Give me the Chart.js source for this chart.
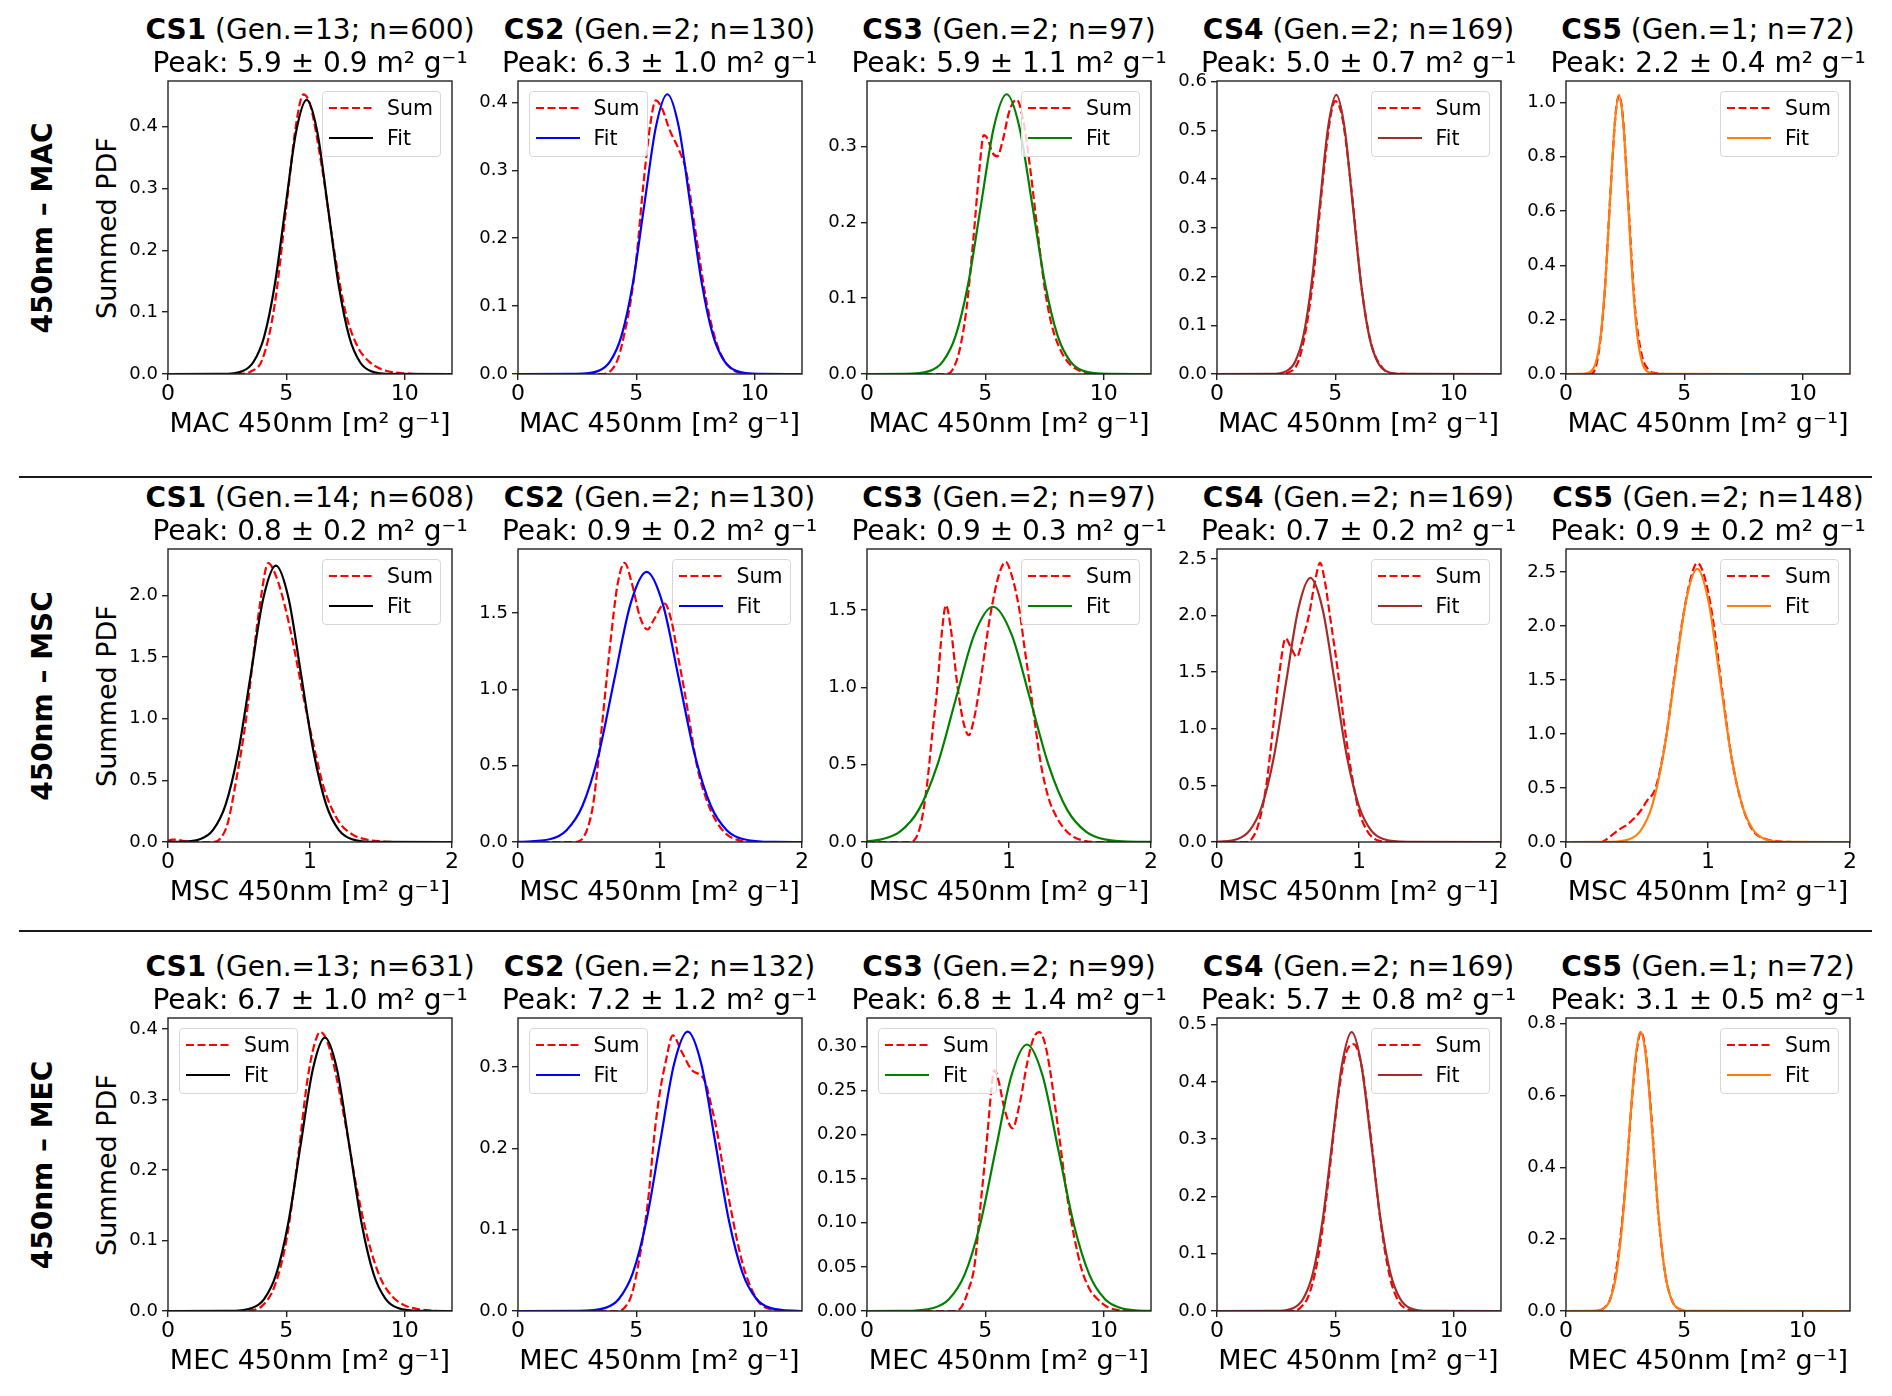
<!DOCTYPE html>
<html><head><meta charset="utf-8">
<script src="https://cdn.jsdelivr.net/npm/chart.js@4.4.1/dist/chart.umd.min.js"></script>
<style>
html,body{margin:0;padding:0;background:#fff;}
body{width:1892px;height:1396px;position:relative;overflow:hidden;font-family:'DejaVu Sans',sans-serif;color:#000;}
canvas{position:absolute;}
.t{position:absolute;width:480px;text-align:center;font-size:28px;line-height:32px;white-space:nowrap;}
.xl{position:absolute;width:480px;text-align:center;font-size:27px;line-height:32px;white-space:nowrap;}
.yl{position:absolute;width:400px;height:32px;text-align:center;font-size:27px;line-height:32px;white-space:nowrap;transform:rotate(-90deg);}
.rl{position:absolute;width:400px;height:34px;text-align:center;font-size:28px;font-weight:bold;line-height:34px;white-space:nowrap;transform:rotate(-90deg);}
.leg{position:absolute;width:117px;height:64px;border:1px solid #d8d8d8;border-radius:4px;background:rgba(255,255,255,0.8);font-size:20.5px;}
.leg svg{position:absolute;left:6px;}
.leg span{position:absolute;left:64px;line-height:24px;}
.sep{position:absolute;left:19px;width:1853px;height:2px;background:#1a1a1a;}
</style>
</head><body>
<div class="sep" style="top:476px"></div>
<div class="sep" style="top:930px"></div>
<script>
// ---------- text / metadata ----------
const csNames = ['CS1','CS2','CS3','CS4','CS5'];
const rowLabels = ['450nm – MAC','450nm – MSC','450nm – MEC'];
const xAxisLabels = ['MAC 450nm [m² g⁻¹]','MSC 450nm [m² g⁻¹]','MEC 450nm [m² g⁻¹]'];
const yAxisLabel = 'Summed PDF';
const macGen = [13,2,2,2,1];  const macN = [600,130,97,169,72];
const mscGen = [14,2,2,2,2];  const mscN = [608,130,97,169,148];
const mecGen = [13,2,2,2,1];  const mecN = [631,132,99,169,72];
const macPeak = ['5.9 ± 0.9','6.3 ± 1.0','5.9 ± 1.1','5.0 ± 0.7','2.2 ± 0.4'];
const mscPeak = ['0.8 ± 0.2','0.9 ± 0.2','0.9 ± 0.3','0.7 ± 0.2','0.9 ± 0.2'];
const mecPeak = ['6.7 ± 1.0','7.2 ± 1.2','6.8 ± 1.4','5.7 ± 0.8','3.1 ± 0.5'];
const fitColors = ['#000000','#0000ff','#008000','#a52a2a','#ff7f0e'];

// ---------- axis ranges & ticks ----------
const macXTicks = ['0','5','10'];  const macXMax = 12;
const mscXTicks = ['0','1','2'];   const mscXMax = 2;
const mecXTicks = ['0','5','10'];  const mecXMax = 12;
const macYMax = [0.4736, 0.4315, 0.3865, 0.6015, 1.079];
const mscYMax = [2.378, 1.918, 1.893, 2.588, 2.712];
const mecYMax = [0.4158, 0.3605, 0.332, 0.5115, 0.8158];
const macYTicks = [['0.0','0.1','0.2','0.3','0.4'],['0.0','0.1','0.2','0.3','0.4'],['0.0','0.1','0.2','0.3'],['0.0','0.1','0.2','0.3','0.4','0.5','0.6'],['0.0','0.2','0.4','0.6','0.8','1.0']];
const mscYTicks = [['0.0','0.5','1.0','1.5','2.0'],['0.0','0.5','1.0','1.5'],['0.0','0.5','1.0','1.5'],['0.0','0.5','1.0','1.5','2.0','2.5'],['0.0','0.5','1.0','1.5','2.0','2.5']];
const mecYTicks = [['0.0','0.1','0.2','0.3','0.4'],['0.0','0.1','0.2','0.3'],['0.00','0.05','0.10','0.15','0.20','0.25','0.30'],['0.0','0.1','0.2','0.3','0.4','0.5'],['0.0','0.2','0.4','0.6','0.8']];
const macLegendLeft = [false,true,false,false,false];
const mscLegendLeft = [false,false,false,false,false];
const mecLegendLeft = [true,true,true,false,false];

// ---------- series: [x, y] ----------
// MAC 450nm
const macCS1Sum = [[0,0],[3,0],[3.5,0.004],[4,0.025],[4.5,0.11],[5,0.27],[5.4,0.4],[5.72,0.452],[6,0.436],[6.5,0.335],[7,0.205],[7.5,0.1],[8,0.045],[8.5,0.02],[9,0.008],[9.5,0.003],[10,0.001],[10.5,0],[12,0]];
const macCS1Fit = [[0,0],[2.26,0.0001],[3.16,0.0049],[3.61,0.0194],[4.06,0.0599],[4.51,0.1438],[4.96,0.2687],[5.41,0.3909],[5.86,0.443],[6.31,0.3909],[6.76,0.2687],[7.21,0.1438],[7.66,0.0599],[8.11,0.0194],[8.56,0.0049],[9.46,0.0001],[12,0]];
const macCS2Sum = [[0,0],[3.6,0],[4,0.008],[4.25,0.025],[4.5,0.06],[4.75,0.105],[5,0.17],[5.3,0.28],[5.6,0.37],[5.82,0.403],[6.1,0.39],[6.4,0.36],[6.8,0.33],[7.1,0.3],[7.5,0.21],[8,0.1],[8.5,0.035],[9,0.008],[9.5,0.001],[10,0],[12,0]];
const macCS2Fit = [[0,0],[2.43,0.0001],[3.40,0.0046],[3.885,0.0181],[4.37,0.0557],[4.855,0.1338],[5.34,0.2499],[5.825,0.3636],[6.31,0.412],[6.795,0.3636],[7.28,0.2499],[7.765,0.1338],[8.25,0.0557],[8.735,0.0181],[9.22,0.0046],[10.19,0.0001],[12,0]];
const macCS3Sum = [[0,0],[3.3,0],[3.6,0.005],[3.9,0.03],[4.2,0.085],[4.5,0.18],[4.75,0.27],[4.93,0.315],[5.1,0.31],[5.3,0.292],[5.5,0.287],[5.75,0.31],[6.0,0.345],[6.32,0.362],[6.6,0.335],[6.9,0.27],[7.2,0.19],[7.5,0.115],[7.8,0.065],[8.2,0.03],[8.6,0.012],[9,0.004],[9.5,0],[12,0]];
const macCS3Fit = [[0,0],[1.58,0.0001],[2.66,0.0041],[3.20,0.0162],[3.74,0.0499],[4.28,0.1198],[4.82,0.2238],[5.36,0.3256],[5.90,0.369],[6.44,0.3256],[6.98,0.2238],[7.52,0.1198],[8.06,0.0499],[8.60,0.0162],[9.14,0.0041],[10.22,0.0001],[12,0]];
const macCS4Sum = [[0,0],[2.5,0],[3,0.003],[3.5,0.035],[4,0.17],[4.5,0.41],[4.8,0.53],[5.0,0.56],[5.3,0.525],[5.7,0.37],[6.1,0.18],[6.5,0.065],[7,0.012],[7.5,0.001],[8,0],[12,0]];
const macCS4Fit = [[0,0],[2.256,0.0002],[2.952,0.0064],[3.30,0.0252],[3.648,0.0775],[3.996,0.1861],[4.344,0.3475],[4.692,0.5057],[5.04,0.573],[5.388,0.5057],[5.736,0.3475],[6.084,0.1861],[6.432,0.0775],[6.78,0.0252],[7.128,0.0064],[7.824,0.0002],[12,0]];
const macCS5Sum = [[0,0],[1.0,0],[1.3,0.04],[1.6,0.26],[1.9,0.7],[2.1,0.96],[2.24,1.025],[2.4,0.95],[2.6,0.68],[2.9,0.26],[3.2,0.07],[3.5,0.015],[3.8,0.003],[4.2,0],[12,0]];
const macCS5Fit = [[0,0],[0.688,0.0003],[1.076,0.0114],[1.27,0.0451],[1.464,0.1391],[1.658,0.3338],[1.852,0.6235],[2.046,0.9072],[2.24,1.028],[2.434,0.9072],[2.628,0.6235],[2.822,0.3338],[3.016,0.1391],[3.21,0.0451],[3.404,0.0114],[3.792,0.0003],[12,0]];
// MSC 450nm
const mscCS1Sum = [[0,0.01],[0.03,0.02],[0.08,0.015],[0.13,0.003],[0.2,0],[0.32,0],[0.37,0.03],[0.42,0.15],[0.48,0.5],[0.55,1.0],[0.6,1.5],[0.65,1.95],[0.706,2.264],[0.76,2.16],[0.82,1.93],[0.88,1.62],[0.95,1.2],[1.0,0.92],[1.05,0.66],[1.1,0.43],[1.2,0.17],[1.3,0.06],[1.4,0.02],[1.5,0.005],[1.6,0],[2,0]];
const mscCS1Fit = [[0,0.0002],[0.052,0.0007],[0.229,0.0249],[0.3175,0.0985],[0.406,0.3035],[0.4945,0.7283],[0.583,1.3604],[0.6715,1.9794],[0.76,2.243],[0.8485,1.9794],[0.937,1.3604],[1.0255,0.7283],[1.114,0.3035],[1.2025,0.0985],[1.291,0.0249],[1.468,0.0007],[2,0]];
const mscCS2Sum = [[0,0],[0.4,0],[0.44,0.01],[0.49,0.09],[0.53,0.25],[0.562,0.5],[0.59,0.75],[0.617,1.0],[0.65,1.3],[0.7,1.68],[0.751,1.827],[0.8,1.7],[0.86,1.47],[0.912,1.391],[0.96,1.46],[1.033,1.561],[1.08,1.45],[1.13,1.2],[1.17,1.0],[1.22,0.72],[1.26,0.5],[1.33,0.27],[1.4,0.13],[1.47,0.05],[1.55,0.012],[1.65,0],[2,0]];
const mscCS2Fit = [[0,0.0005],[0.229,0.0196],[0.342,0.0776],[0.455,0.2392],[0.568,0.5741],[0.680,1.0723],[0.793,1.5603],[0.906,1.768],[1.019,1.5603],[1.132,1.0723],[1.244,0.5741],[1.357,0.2392],[1.470,0.0776],[1.583,0.0196],[1.808,0.0005],[2,0]];
const mscCS3Sum = [[0,0],[0.3,0],[0.34,0.02],[0.38,0.12],[0.42,0.35],[0.46,0.7],[0.495,1.0],[0.53,1.38],[0.556,1.53],[0.59,1.38],[0.638,1.0],[0.68,0.77],[0.717,0.69],[0.75,0.78],[0.793,1.0],[0.84,1.3],[0.875,1.5],[0.93,1.73],[0.976,1.81],[1.02,1.72],[1.073,1.5],[1.11,1.25],[1.149,1.0],[1.19,0.72],[1.225,0.5],[1.28,0.28],[1.33,0.17],[1.377,0.1],[1.45,0.035],[1.53,0.008],[1.6,0],[2,0]];
const mscCS3Fit = [[0,0.0049],[0.101,0.0169],[0.232,0.0667],[0.363,0.2057],[0.494,0.4935],[0.625,0.9219],[0.756,1.3414],[0.887,1.52],[1.018,1.3414],[1.149,0.9219],[1.28,0.4935],[1.411,0.2057],[1.542,0.0667],[1.673,0.0169],[1.935,0.0005],[2,0.0002]];
const mscCS4Sum = [[0,0],[0.2,0],[0.24,0.02],[0.29,0.15],[0.347,0.5],[0.394,1.0],[0.44,1.5],[0.483,1.8],[0.52,1.72],[0.562,1.634],[0.6,1.78],[0.647,2.0],[0.69,2.3],[0.726,2.465],[0.76,2.3],[0.795,2.0],[0.852,1.5],[0.9,1.0],[0.962,0.5],[1.0,0.27],[1.057,0.1],[1.1,0.035],[1.15,0.008],[1.25,0],[2,0]];
const mscCS4Fit = [[0,0.0014],[0.145,0.0259],[0.2305,0.1024],[0.316,0.3157],[0.4015,0.7575],[0.487,1.415],[0.5725,2.0589],[0.658,2.333],[0.7435,2.0589],[0.829,1.415],[0.9145,0.7575],[1.0,0.3157],[1.0855,0.1024],[1.171,0.0259],[1.342,0.0007],[2,0]];
const mscCS5Sum = [[0,0],[0.25,0],[0.28,0.02],[0.33,0.07],[0.38,0.12],[0.43,0.16],[0.473,0.21],[0.52,0.28],[0.57,0.38],[0.631,0.5],[0.7,0.93],[0.76,1.5],[0.82,2.05],[0.88,2.45],[0.924,2.583],[0.97,2.48],[1.03,2.1],[1.1,1.4],[1.17,0.75],[1.25,0.3],[1.32,0.1],[1.4,0.03],[1.5,0.005],[1.6,0],[2,0]];
const mscCS5Fit = [[0,0],[0.292,0.0008],[0.45,0.0281],[0.529,0.111],[0.608,0.342],[0.687,0.8208],[0.766,1.5332],[0.845,2.231],[0.924,2.528],[1.003,2.231],[1.082,1.5332],[1.161,0.8208],[1.24,0.342],[1.319,0.111],[1.398,0.0281],[1.556,0.0008],[2,0]];
// MEC 450nm
const mecCS1Sum = [[0,0],[3,0],[3.5,0.001],[4,0.008],[4.5,0.035],[5,0.1],[5.5,0.22],[5.9,0.33],[6.2,0.38],[6.43,0.396],[6.7,0.385],[7.0,0.35],[7.5,0.265],[8,0.17],[8.5,0.095],[9,0.045],[9.5,0.02],[10,0.008],[10.5,0.003],[11,0.001],[11.5,0],[12,0]];
const mecCS1Fit = [[0,0],[2.518,0.0001],[3.546,0.0043],[4.06,0.017],[4.574,0.0525],[5.088,0.126],[5.602,0.2353],[6.116,0.3424],[6.63,0.388],[7.144,0.3424],[7.658,0.2353],[8.172,0.126],[8.686,0.0525],[9.2,0.017],[9.714,0.0043],[10.742,0.0001],[12,0]];
const mecCS2Sum = [[0,0],[4.2,0],[4.5,0.004],[4.8,0.02],[5.1,0.06],[5.5,0.137],[5.77,0.219],[6.0,0.27],[6.23,0.305],[6.54,0.339],[6.9,0.32],[7.33,0.297],[7.88,0.284],[8.15,0.255],[8.42,0.219],[8.7,0.17],[8.97,0.129],[9.25,0.088],[9.52,0.055],[9.9,0.025],[10.26,0.008],[10.7,0.002],[11,0],[12,0]];
const mecCS2Fit = [[0,0],[2.53,0.0001],[3.69,0.0038],[4.27,0.0151],[4.85,0.0465],[5.43,0.1116],[6.01,0.2085],[6.59,0.3033],[7.17,0.3437],[7.75,0.3033],[8.33,0.2085],[8.91,0.1116],[9.49,0.0465],[10.07,0.0151],[10.65,0.0038],[11.81,0.0001],[12,0]];
const mecCS3Sum = [[0,0],[3.7,0],[4.0,0.005],[4.3,0.025],[4.54,0.051],[4.82,0.126],[5.09,0.201],[5.25,0.25],[5.37,0.273],[5.55,0.262],[5.8,0.23],[6.15,0.207],[6.45,0.235],[6.8,0.285],[7.05,0.31],[7.29,0.316],[7.5,0.305],[7.71,0.277],[8.11,0.2],[8.48,0.126],[9.03,0.051],[9.4,0.025],[9.76,0.013],[10.2,0.004],[10.6,0.001],[11,0],[12,0]];
const mecCS3Fit = [[0,0],[1.48,0.0001],[2.80,0.0034],[3.46,0.0133],[4.12,0.0409],[4.78,0.0981],[5.44,0.1832],[6.10,0.2665],[6.76,0.302],[7.42,0.2665],[8.08,0.1832],[8.74,0.0981],[9.40,0.0409],[10.06,0.0133],[10.72,0.0034],[11.5,0.0005],[12,0.0001]];
const mecCS4Sum = [[0,0],[3.2,0],[3.5,0.005],[3.9,0.03],[4.3,0.1],[4.7,0.225],[5.1,0.37],[5.45,0.45],[5.77,0.466],[6.1,0.43],[6.5,0.305],[6.9,0.16],[7.3,0.06],[7.7,0.015],[8.0,0.004],[8.4,0],[12,0]];
const mecCS4Fit = [[0,0],[2.414,0.0001],[3.233,0.0054],[3.6425,0.0214],[4.052,0.0659],[4.4615,0.1581],[4.871,0.2954],[5.2805,0.4298],[5.69,0.487],[6.0995,0.4298],[6.509,0.2954],[6.9185,0.1581],[7.328,0.0659],[7.7375,0.0214],[8.147,0.0054],[8.966,0.0001],[12,0]];
const mecCS5Sum = [[0,0],[1.3,0],[1.6,0.008],[1.9,0.04],[2.2,0.15],[2.5,0.34],[2.8,0.6],[3.0,0.73],[3.16,0.777],[3.35,0.73],[3.6,0.55],[3.9,0.27],[4.2,0.1],[4.5,0.026],[4.8,0.005],[5.1,0],[12,0]];
const mecCS5Fit = [[0,0],[1.108,0.0002],[1.621,0.0086],[1.8775,0.0341],[2.134,0.1051],[2.3905,0.2523],[2.647,0.4713],[2.9035,0.6857],[3.16,0.777],[3.4165,0.6857],[3.673,0.4713],[3.9295,0.2523],[4.186,0.1051],[4.4425,0.0341],[4.699,0.0086],[5.212,0.0002],[12,0]];

// ---------- layout ----------
const colLeft = [168, 517.5, 867, 1216.5, 1566];
const rowTop = [81, 549, 1018];
const PW = 284, PH = 293;
const YAX = 60, PADT = 15, PADR = 15, XAX = 40;

const rows = [
  {gen: macGen, n: macN, peak: macPeak, xTicks: macXTicks, xMax: macXMax, yMax: macYMax, yTicks: macYTicks, legLeft: macLegendLeft,
   sum: [macCS1Sum, macCS2Sum, macCS3Sum, macCS4Sum, macCS5Sum], fit: [macCS1Fit, macCS2Fit, macCS3Fit, macCS4Fit, macCS5Fit]},
  {gen: mscGen, n: mscN, peak: mscPeak, xTicks: mscXTicks, xMax: mscXMax, yMax: mscYMax, yTicks: mscYTicks, legLeft: mscLegendLeft,
   sum: [mscCS1Sum, mscCS2Sum, mscCS3Sum, mscCS4Sum, mscCS5Sum], fit: [mscCS1Fit, mscCS2Fit, mscCS3Fit, mscCS4Fit, mscCS5Fit]},
  {gen: mecGen, n: mecN, peak: mecPeak, xTicks: mecXTicks, xMax: mecXMax, yMax: mecYMax, yTicks: mecYTicks, legLeft: mecLegendLeft,
   sum: [mecCS1Sum, mecCS2Sum, mecCS3Sum, mecCS4Sum, mecCS5Sum], fit: [mecCS1Fit, mecCS2Fit, mecCS3Fit, mecCS4Fit, mecCS5Fit]}
];

const FONT = "'DejaVu Sans', sans-serif";
const framePlugin = {
  id: 'frame',
  afterDraw(chart) {
    const a = chart.chartArea, ctx = chart.ctx;
    ctx.save();
    ctx.strokeStyle = '#222';
    ctx.lineWidth = 1.4;
    ctx.strokeRect(a.left, a.top, a.right - a.left, a.bottom - a.top);
    ctx.restore();
  }
};
const toXY = arr => arr.map(p => ({x: p[0], y: p[1]}));

function addDiv(cls, html, left, top, extra) {
  const d = document.createElement('div');
  d.className = cls;
  d.innerHTML = html;
  d.style.left = left + 'px';
  d.style.top = top + 'px';
  if (extra) Object.assign(d.style, extra);
  document.body.appendChild(d);
  return d;
}

function legendHTML(color) {
  return '<svg width="46" height="8" style="top:12px"><line x1="0" y1="4" x2="44" y2="4" stroke="#ff0000" stroke-width="2.2" stroke-dasharray="8 3.5"/></svg>' +
         '<span style="top:4px">Sum</span>' +
         '<svg width="46" height="8" style="top:42px"><line x1="0" y1="4" x2="44" y2="4" stroke="' + color + '" stroke-width="2.2"/></svg>' +
         '<span style="top:34px">Fit</span>';
}

rows.forEach((row, r) => {
  const top = rowTop[r];
  const cy = top + PH / 2;
  addDiv('rl', rowLabels[r], 43 - 200, cy - 17);
  addDiv('yl', yAxisLabel, 107 - 200, cy - 16);
  for (let c = 0; c < 5; c++) {
    const left = colLeft[c];
    const cx = left + PW / 2;
    const canvas = document.createElement('canvas');
    const cw = YAX + PW + PADR, ch = PADT + PH + XAX;
    canvas.width = cw; canvas.height = ch;
    canvas.style.left = (left - YAX) + 'px';
    canvas.style.top = (top - PADT) + 'px';
    canvas.style.width = cw + 'px';
    canvas.style.height = ch + 'px';
    document.body.appendChild(canvas);
    const yLabels = row.yTicks[c];
    const xLabels = row.xTicks;
    new Chart(canvas, {
      type: 'line',
      data: {datasets: [
        {label: 'Sum', data: toXY(row.sum[c]), borderColor: '#ff0000', borderWidth: 2.2, borderDash: [8, 3.5],
         pointRadius: 0, cubicInterpolationMode: 'monotone', fill: false, order: 1},
        {label: 'Fit', data: toXY(row.fit[c]), borderColor: fitColors[c], borderWidth: 2.2,
         pointRadius: 0, cubicInterpolationMode: 'monotone', fill: false, order: 0}
      ]},
      options: {
        responsive: false, animation: false, events: [],
        layout: {padding: {left: 0, top: PADT, right: PADR, bottom: 0}},
        plugins: {legend: {display: false}, tooltip: {enabled: false}, title: {display: false}},
        scales: {
          x: {type: 'linear', min: 0, max: row.xMax,
              afterBuildTicks: s => { s.ticks = xLabels.map(v => ({value: parseFloat(v)})); },
              afterFit: s => { s.height = XAX; },
              ticks: {callback: (v, i) => xLabels[i], font: {family: FONT, size: 22}, color: '#000', padding: 1, maxRotation: 0, autoSkip: false},
              grid: {display: true, drawOnChartArea: false, drawTicks: true, tickLength: 6, color: '#222', lineWidth: 1.4},
              border: {display: false}},
          y: {type: 'linear', min: 0, max: row.yMax[c],
              afterBuildTicks: s => { s.ticks = yLabels.map(v => ({value: parseFloat(v)})); },
              afterFit: s => { s.width = YAX; },
              ticks: {callback: (v, i) => yLabels[i], font: {family: FONT, size: 18}, color: '#000', padding: 4, autoSkip: false},
              grid: {display: true, drawOnChartArea: false, drawTicks: true, tickLength: 6, color: '#222', lineWidth: 1.4},
              border: {display: false}}
        }
      },
      plugins: [framePlugin]
    });
    // titles
    addDiv('t', '<b>' + csNames[c] + '</b> (Gen.=' + row.gen[c] + '; n=' + row.n[c] + ')', cx - 240, top - 51 - 16);
    addDiv('t', 'Peak: ' + row.peak[c] + ' m² g⁻¹', cx - 240, top - 18 - 16);
    // x label
    addDiv('xl', xAxisLabels[r], cx - 240, top + PH + 49 - 16);
    // legend
    const legLeft = row.legLeft[c] ? left + 11 : left + PW - 11 - 119;
    addDiv('leg', legendHTML(fitColors[c]), legLeft, top + 10);
  }
});
</script>
</body></html>
